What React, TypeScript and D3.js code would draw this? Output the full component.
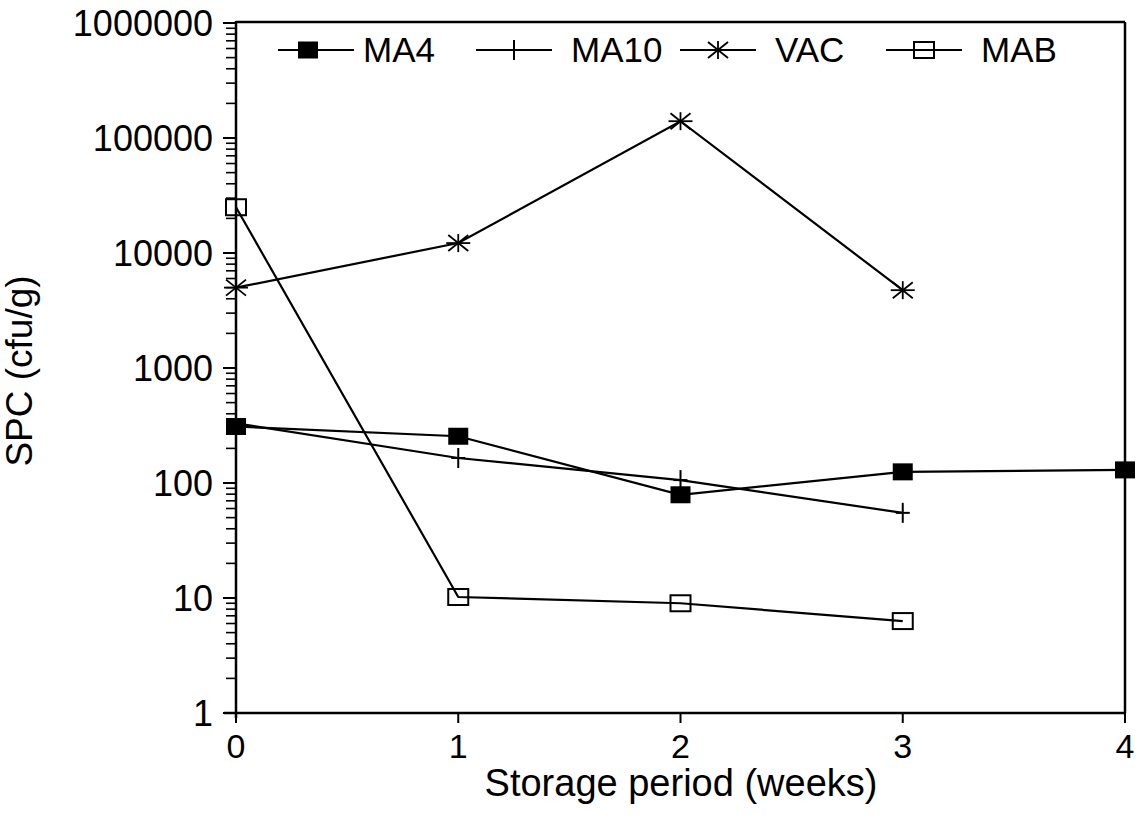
import React from "react";
import * as d3 from "d3";

const weeks = [0, 1, 2, 3, 4];
const xTicks = [0, 1, 2, 3, 4];
const yTicks = [1, 10, 100, 1000, 10000, 100000, 1000000];
const ma4 = [310, 255, 79, 125, 130];
const ma10 = [330, 165, 106, 55];
const vac = [5000, 12200, 140000, 4750];
const mab = [25000, 10.2, 9.0, 6.3];
const seriesNames = ["MA4", "MA10", "VAC", "MAB"];

const W = 1143;
const H = 816;
const left = 236;
const right = 1125;
const top = 23;
const bottom = 713;
const FONT = "'Liberation Sans', Arial, Helvetica, sans-serif";

type Sym = "fsq" | "plus" | "star" | "osq";

function Marker({ x, y, sym }: { x: number; y: number; sym: Sym }) {
  if (sym === "fsq")
    return <rect x={x - 10} y={y - 8.5} width={20} height={17} fill="#000" />;
  if (sym === "osq")
    return (
      <rect x={x - 10} y={y - 8} width={20} height={16} fill="none" stroke="#000" strokeWidth={2} />
    );
  if (sym === "plus")
    return (
      <g stroke="#000" strokeWidth={2}>
        <line x1={x - 7} x2={x + 7} y1={y} y2={y} />
        <line x1={x} x2={x} y1={y - 10} y2={y + 10} />
      </g>
    );
  return (
    <g stroke="#000" strokeWidth={1.8}>
      <line x1={x - 12} x2={x + 12} y1={y} y2={y} />
      <line x1={x} x2={x} y1={y - 9} y2={y + 9} />
      <line x1={x - 10} x2={x + 10} y1={y - 8} y2={y + 8} />
      <line x1={x - 10} x2={x + 10} y1={y + 8} y2={y - 8} />
    </g>
  );
}

export default function App() {
  const x = d3.scaleLinear().domain([0, 4]).range([left, right]);
  const y = d3.scaleLog().domain([1, 1000000]).range([bottom, top]);
  const series: { name: string; vals: number[]; sym: Sym }[] = [
    { name: seriesNames[0], vals: ma4, sym: "fsq" },
    { name: seriesNames[1], vals: ma10, sym: "plus" },
    { name: seriesNames[2], vals: vac, sym: "star" },
    { name: seriesNames[3], vals: mab, sym: "osq" },
  ];
  const line = d3
    .line<number>()
    .x((_, i) => x(weeks[i]))
    .y((v) => y(v));

  const minor: number[] = [];
  for (let e = 0; e < 6; e++) {
    for (let k = 2; k <= 9; k++) minor.push(k * Math.pow(10, e));
  }

  const legendX = [278, 476, 680, 886];
  const legendY = 50;

  return (
    <svg
      width={W}
      height={H}
      style={{ position: "absolute", left: 0, top: 0, background: "#fff" }}
      fontFamily={FONT}
    >
      <rect x={0} y={0} width={W} height={H} fill="#fff" />
      {/* frame */}
      <line x1={left} x2={right} y1={top - 1} y2={top - 1} stroke="#000" strokeWidth={2.5} />
      <line x1={right} x2={right} y1={top - 1} y2={bottom} stroke="#000" strokeWidth={2.5} />
      <line x1={left} x2={left} y1={top - 2} y2={bottom + 5} stroke="#000" strokeWidth={2.5} />
      <line x1={left - 12} x2={right} y1={bottom} y2={bottom} stroke="#000" strokeWidth={2.5} />
      {/* y ticks */}
      {yTicks.map((t) => (
        <g key={"yt" + t}>
          <line x1={left - 13} x2={left} y1={y(t)} y2={y(t)} stroke="#000" strokeWidth={2} />
          <text
            x={213}
            y={y(t)}
            dy="0.36em"
            textAnchor="end"
            fontSize={36}
            fill="#000"
          >
            {String(t)}
          </text>
        </g>
      ))}
      {minor.map((t) => (
        <line
          key={"ym" + t}
          x1={left - 10}
          x2={left}
          y1={y(t)}
          y2={y(t)}
          stroke="#000"
          strokeWidth={1.6}
        />
      ))}
      {/* x ticks */}
      {xTicks.map((t) => (
        <g key={"xt" + t}>
          <line x1={x(t)} x2={x(t)} y1={bottom} y2={bottom + 10} stroke="#000" strokeWidth={2} />
          <text x={x(t)} y={758} textAnchor="middle" fontSize={34} fill="#000">
            {String(t)}
          </text>
        </g>
      ))}
      {/* axis titles */}
      <text x={681} y={796} textAnchor="middle" fontSize={38} fill="#000">
        Storage period (weeks)
      </text>
      <text
        transform={`translate(32, 371) rotate(-90)`}
        textAnchor="middle"
        fontSize={37}
        fill="#000"
      >
        SPC (cfu/g)
      </text>
      {/* series lines */}
      {series.map((s) => (
        <path key={"l" + s.name} d={line(s.vals) || ""} fill="none" stroke="#000" strokeWidth={2.2} />
      ))}
      {series.map((s) =>
        s.vals.map((v, i) => (
          <Marker key={s.name + i} x={x(weeks[i])} y={y(v)} sym={s.sym} />
        ))
      )}
      {/* legend */}
      {series.map((s, i) => (
        <g key={"lg" + s.name}>
          <line
            x1={legendX[i]}
            x2={legendX[i] + 76}
            y1={legendY}
            y2={legendY}
            stroke="#000"
            strokeWidth={2}
          />
          <Marker x={legendX[i] + (i === 0 ? 30 : 38)} y={legendY} sym={s.sym} />
          <text x={legendX[i] + (i === 0 ? 85 : 95)} y={62} fontSize={35} fill="#000">
            {s.name}
          </text>
        </g>
      ))}
    </svg>
  );
}
